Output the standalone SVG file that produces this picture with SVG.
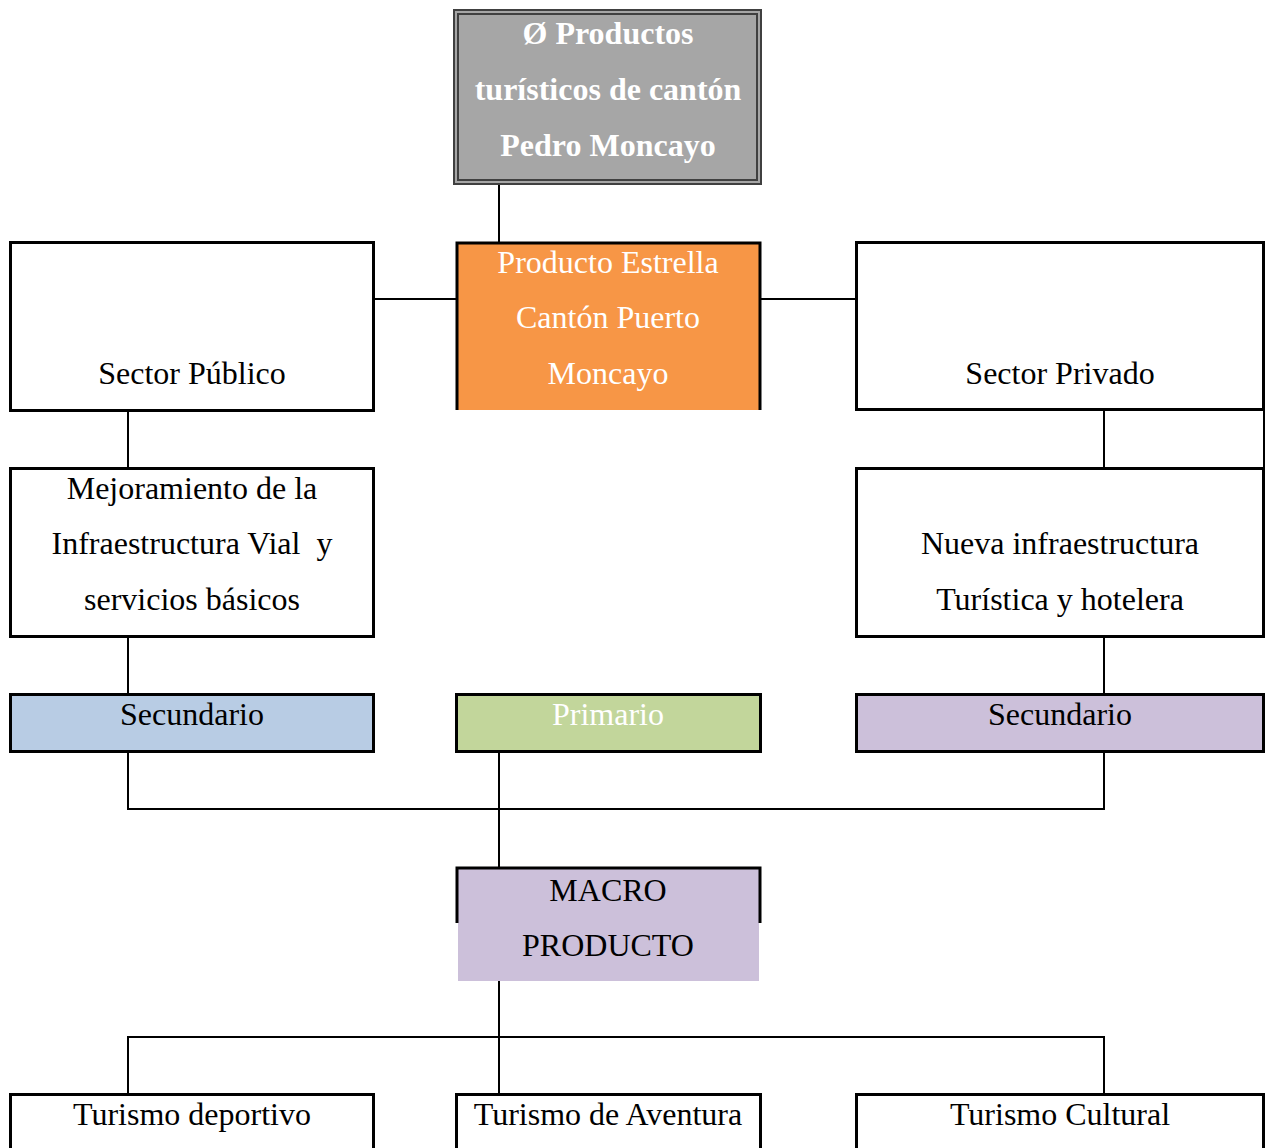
<svg xmlns="http://www.w3.org/2000/svg" width="1270" height="1148" viewBox="0 0 1270 1148">
<style>
.box{stroke:#000;stroke-width:3;}
.w{fill:#fff;}
.t{font-family:"Liberation Serif","Times New Roman",serif;font-size:32px;text-anchor:middle;fill:#000;}
.tw{fill:#fff;}
.b{font-weight:bold;}
.c{stroke:#000;stroke-width:2;fill:none;}
</style>
<rect width="1270" height="1148" fill="#fff"/>
<g id="connectors">
<line class="c" x1="499" y1="185" x2="499" y2="242"/>
<line class="c" x1="374" y1="299" x2="456" y2="299"/>
<line class="c" x1="761" y1="299" x2="856" y2="299"/>
<line class="c" x1="128" y1="411" x2="128" y2="468"/>
<line class="c" x1="1104" y1="410" x2="1104" y2="468"/>
<line class="c" x1="1264" y1="410" x2="1264" y2="468"/>
<line class="c" x1="128" y1="637" x2="128" y2="694"/>
<line class="c" x1="1104" y1="637" x2="1104" y2="694"/>
<polyline class="c" points="128,752 128,809 1104,809 1104,752"/>
<line class="c" x1="499" y1="752" x2="499" y2="867"/>
<line class="c" x1="499" y1="981" x2="499" y2="1093"/>
<polyline class="c" points="128,1093 128,1037 1104,1037 1104,1093"/>
</g>
<g id="top">
<rect x="454" y="10" width="307" height="174" fill="#a6a6a6" stroke="#404040" stroke-width="2"/>
<rect x="458" y="14" width="299" height="166" fill="none" stroke="#404040" stroke-width="2"/>
<text class="t tw b" x="608" y="44">Ø Productos</text>
<text class="t tw b" x="608" y="100">turísticos de cantón</text>
<text class="t tw b" x="608" y="156">Pedro Moncayo</text>
</g>
<g id="estrella">
<rect x="456" y="242" width="305" height="168" fill="#f79646"/>
<polyline points="457,410 457,243 760,243 760,410" fill="none" stroke="#000" stroke-width="3"/>
<text class="t tw" x="608" y="273">Producto Estrella</text>
<text class="t tw" x="608" y="328">Cantón Puerto</text>
<text class="t tw" x="608" y="384">Moncayo</text>
</g>
<g id="publico">
<rect class="box w" x="10.5" y="242.5" width="363" height="168"/>
<text class="t" x="192" y="384">Sector Público</text>
</g>
<g id="privado">
<rect class="box w" x="856.5" y="242.5" width="407" height="167"/>
<text class="t" x="1060" y="384">Sector Privado</text>
</g>
<g id="mejoramiento">
<rect class="box w" x="10.5" y="468.5" width="363" height="168"/>
<text class="t" x="192" y="499">Mejoramiento de la</text>
<text class="t" x="192" y="554" xml:space="preserve">Infraestructura Vial  y</text>
<text class="t" x="192" y="610">servicios básicos</text>
</g>
<g id="nueva">
<rect class="box w" x="856.5" y="468.5" width="407" height="168"/>
<text class="t" x="1060" y="554">Nueva infraestructura</text>
<text class="t" x="1060" y="610">Turística y hotelera</text>
</g>
<g id="sec-izq">
<rect class="box" fill="#b8cce4" x="10.5" y="694.5" width="363" height="57"/>
<text class="t" x="192" y="725">Secundario</text>
</g>
<g id="primario">
<rect class="box" fill="#c2d69b" x="456.5" y="694.5" width="304" height="57"/>
<text class="t tw" x="608" y="725">Primario</text>
</g>
<g id="sec-der">
<rect class="box" fill="#ccc0da" x="856.5" y="694.5" width="407" height="57"/>
<text class="t" x="1060" y="725">Secundario</text>
</g>
<g id="macro">
<rect x="456" y="867" width="305" height="56" fill="#ccc0da"/>
<rect x="458" y="923" width="301" height="58" fill="#ccc0da"/>
<polyline points="457,923 457,868 760,868 760,923" fill="none" stroke="#000" stroke-width="3"/>
<text class="t" x="608" y="901">MACRO</text>
<text class="t" x="608" y="956">PRODUCTO</text>
</g>
<g id="deportivo">
<rect class="box w" x="10.5" y="1094.5" width="363" height="70"/>
<text class="t" x="192" y="1125">Turismo deportivo</text>
</g>
<g id="aventura">
<rect class="box w" x="456.5" y="1094.5" width="304" height="70"/>
<text class="t" x="608" y="1125">Turismo de Aventura</text>
</g>
<g id="cultural">
<rect class="box w" x="856.5" y="1094.5" width="407" height="70"/>
<text class="t" x="1060" y="1125">Turismo Cultural</text>
</g>
</svg>
